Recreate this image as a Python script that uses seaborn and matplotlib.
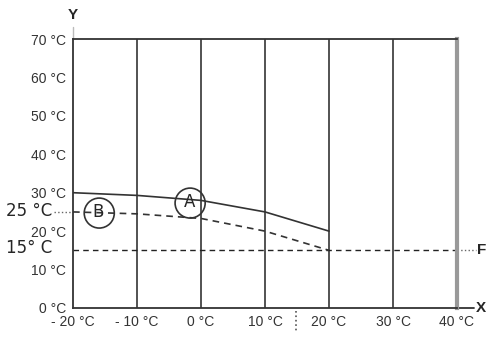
import matplotlib
matplotlib.use("Agg")
import matplotlib.pyplot as plt
from matplotlib.patches import Ellipse
import pandas as pd
import seaborn as sns

# Curve data
x_pts = [-20, -10, 0, 10, 20]
curve_a = [30.0, 29.3, 28.0, 25.0, 20.0]   # solid line (A)
curve_b = [25.0, 24.5, 23.3, 20.0, 15.0]   # dashed line (B)
level_f = 15                               # horizontal dashed line (F)

x_ticks = [-20, -10, 0, 10, 20, 30, 40]
x_labels = ['- 20 °C', '- 10 °C', '0 °C', '10 °C', '20 °C', '30 °C', '40 °C']
y_ticks = [0, 10, 20, 30, 40, 50, 60, 70]
y_labels = ['0 °C', '10 °C', '20 °C', '30 °C', '40 °C', '50 °C', '60 °C', '70 °C']

df = pd.DataFrame({'x': x_pts * 2,
                   'y': curve_a + curve_b,
                   'curve': ['A'] * len(x_pts) + ['B'] * len(x_pts)})

sns.set_style("white")
plt.rcParams['font.family'] = ['Liberation Sans', 'DejaVu Sans']

fig = plt.figure(figsize=(4.94, 3.38), dpi=100)
ax = fig.add_axes([0.1478, 0.0888, 0.7773, 0.7958])

# vertical grid lines
for xv in x_ticks[1:-1]:
    ax.axvline(xv, color='#444444', lw=1.3, zorder=1)

sns.lineplot(data=df, x='x', y='y', style='curve',
             dashes={'A': '', 'B': (4, 3)}, color='#333333',
             lw=1.2, legend=False, ax=ax, zorder=3)

ax.axhline(level_f, color='#222222', lw=1.0, ls=(0, (4, 3)), zorder=2)

ax.set_xlim(-20, 40)
ax.set_ylim(0, 70)
ax.set_xticks(x_ticks)
ax.set_xticklabels(x_labels)
ax.set_yticks(y_ticks)
ax.set_yticklabels(y_labels)
ax.set_xlabel('')
ax.set_ylabel('')
ax.tick_params(axis='both', labelsize=10, labelcolor='#333333',
               length=4, width=1, color='#555555', direction='out', pad=1)

for s in ['left', 'bottom', 'top']:
    ax.spines[s].set_color('#333333')
    ax.spines[s].set_linewidth(1.3)
ax.spines['right'].set_color('#999999')
ax.spines['right'].set_linewidth(3)

# circled labels
ax.add_patch(Ellipse((-1.7, 27.3), 4.7, 7.8,
                     fill=False, ec='#333333', lw=1.2, zorder=4))
ax.add_patch(Ellipse((-15.9, 24.7), 4.7, 7.8,
                     fill=False, ec='#333333', lw=1.2, zorder=4))
ax.text(-1.8, 27.6, 'A', fontsize=12, ha='center', va='center', zorder=5,
        family=['DejaVu Sans'])
ax.text(-16.1, 24.9, 'B', fontsize=12, ha='center', va='center', zorder=5,
        family=['DejaVu Sans'])

# outside annotations
ax.plot([-22.9, -20], [25, 25], ls=':', color='#666666', lw=1, clip_on=False)
ax.plot([40, 43], [level_f, level_f], ls=':', color='#666666', lw=1, clip_on=False)
ax.plot([40, 42.6], [0, 0], color='#333333', lw=1.3, clip_on=False)
ax.plot([14.8, 14.8], [-0.8, -6], ls=':', color='#555555', lw=1.2, clip_on=False)
ax.plot([-20, -20], [70, 73], color='#bbbbbb', lw=1, clip_on=False)

ax.text(-23.3, 25.2, '25 °C', fontsize=12, ha='right', va='center',
        family=['DejaVu Sans'])
ax.text(-23.3, 15.5, '15° C', fontsize=12, ha='right', va='center',
        family=['DejaVu Sans'])
ax.text(43.2, level_f, 'F', fontsize=11, fontweight='bold', ha='left', va='center')
ax.text(42.9, 0, 'X', fontsize=11, fontweight='bold', ha='left', va='center')
ax.text(-20, 74.5, 'Y', fontsize=11, fontweight='bold', ha='center', va='bottom')

plt.savefig('out.png', dpi=100)
